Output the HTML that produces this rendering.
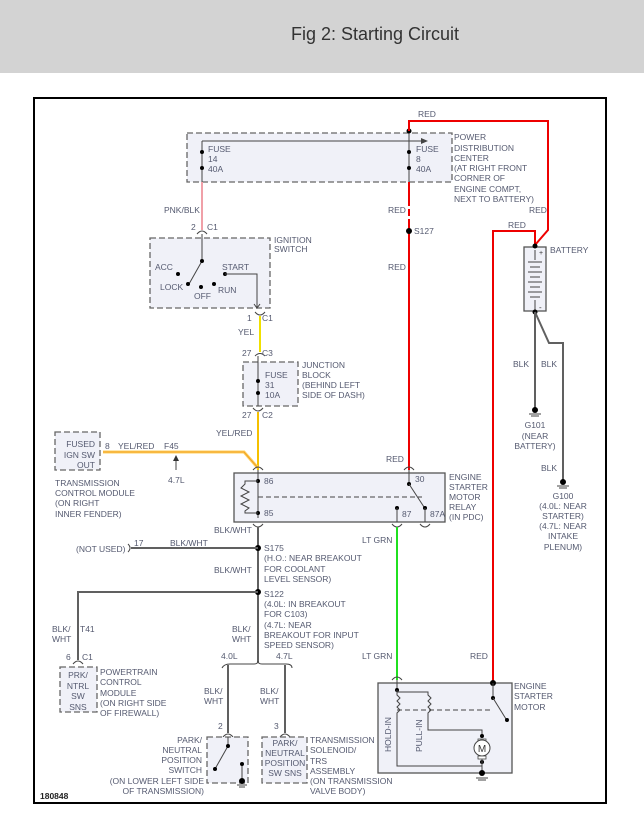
<!DOCTYPE html>
<html><head><meta charset="utf-8"><style>
html,body{margin:0;padding:0;background:#fff;}
svg{display:block;font-family:"Liberation Sans",sans-serif;}
.t{font-size:8.5px;fill:#555a70;}
.w{stroke:#606060;stroke-width:2;fill:none;}
.k{stroke:#444;stroke-width:1;fill:none;}
.bx{fill:#f0f1f8;stroke:#666;stroke-width:1.3;stroke-dasharray:6,3;}
.sb{fill:#f0f1f8;stroke:#555;stroke-width:1.3;}
</style></head><body>
<svg width="644" height="829" viewBox="0 0 644 829">
<rect x="0" y="0" width="644" height="73" fill="#d3d3d3"/>
<text x="375" y="40" font-size="18" fill="#333" text-anchor="middle">Fig 2: Starting Circuit</text>
<rect x="34" y="98" width="572" height="705" fill="#fff" stroke="#000" stroke-width="2"/>

<!-- PDC -->
<rect class="bx" x="187" y="133" width="265" height="49"/>
<line class="k" x1="202" y1="141" x2="425" y2="141"/><polygon points="428,141 421,138 421,144" fill="#444"/>
<line class="k" x1="202" y1="141" x2="202" y2="182"/><line class="k" x1="409" y1="121" x2="409" y2="182"/>
<circle cx="202" cy="152" r="2" fill="#000"/><circle cx="202" cy="168" r="2" fill="#000"/>
<circle cx="409" cy="152" r="2" fill="#000"/><circle cx="409" cy="168" r="2" fill="#000"/>
<circle cx="409" cy="131" r="2.5" fill="#000"/>
<text class="t" x="208" y="152">FUSE</text><text class="t" x="208" y="162">14</text><text class="t" x="208" y="172">40A</text>
<text class="t" x="416" y="152">FUSE</text><text class="t" x="416" y="162">8</text><text class="t" x="416" y="172">40A</text>
<text class="t" x="454" y="140">POWER</text><text class="t" x="454" y="151">DISTRIBUTION</text><text class="t" x="454" y="161">CENTER</text><text class="t" x="454" y="171">(AT RIGHT FRONT</text><text class="t" x="454" y="181">CORNER OF</text><text class="t" x="454" y="192">ENGINE COMPT,</text><text class="t" x="454" y="202">NEXT TO BATTERY)</text>

<!-- red wires -->
<polyline points="409,131 409,121 548,121 548,230 535,245" stroke="#e00" stroke-width="2" fill="none"/>
<line x1="409" y1="182" x2="409" y2="470" stroke="#e00" stroke-width="2" stroke-dasharray="none"/>
<rect x="405" y="206" width="8" height="3" fill="#fff"/><rect x="405" y="216" width="8" height="3" fill="#fff"/>
<circle cx="409" cy="231" r="3" fill="#000"/><text class="t" x="414" y="234">S127</text>
<text class="t" x="418" y="117">RED</text><text class="t" x="388" y="213">RED</text><text class="t" x="529" y="213">RED</text><text class="t" x="388" y="270">RED</text><text class="t" x="508" y="228">RED</text><text class="t" x="386" y="462">RED</text>
<polyline points="535,245 535,231 493,231 493,700" stroke="#e00" stroke-width="2" fill="none"/>
<text class="t" x="470" y="659">RED</text>

<!-- battery -->
<rect class="sb" x="524" y="247" width="22" height="64"/>
<line class="k" x1="535" y1="250" x2="535" y2="260"/><line class="k" x1="535" y1="300" x2="535" y2="311"/>
<g stroke="#444" stroke-width="1"><line x1="528" y1="262" x2="542" y2="262"/><line x1="530" y1="267" x2="540" y2="267"/><line x1="528" y1="272" x2="542" y2="272"/><line x1="530" y1="277" x2="540" y2="277"/><line x1="528" y1="282" x2="542" y2="282"/><line x1="530" y1="287" x2="540" y2="287"/><line x1="528" y1="292" x2="542" y2="292"/><line x1="530" y1="297" x2="540" y2="297"/></g>
<text x="539" y="255" font-size="7" fill="#333">+</text><text x="539" y="310" font-size="8" fill="#333">-</text>
<circle cx="535" cy="246" r="2.5" fill="#000"/><circle cx="535" cy="312" r="2.5" fill="#000"/>
<text class="t" x="550" y="253">BATTERY</text>
<line class="w" x1="535" y1="312" x2="535" y2="408"/>
<polyline class="w" points="535,312 549,343 563,343 563,480"/>
<text class="t" x="513" y="367">BLK</text><text class="t" x="541" y="367">BLK</text><text class="t" x="541" y="471">BLK</text>
<circle cx="535" cy="410" r="3" fill="#000"/><line class="k" x1="529" y1="414" x2="541" y2="414"/><line class="k" x1="531" y1="416" x2="539" y2="416"/>
<circle cx="563" cy="482" r="3" fill="#000"/><line class="k" x1="557" y1="486" x2="569" y2="486"/><line class="k" x1="559" y1="488" x2="567" y2="488"/>
<text class="t" x="535" y="428" text-anchor="middle">G101</text><text class="t" x="535" y="439" text-anchor="middle">(NEAR</text><text class="t" x="535" y="449" text-anchor="middle">BATTERY)</text>
<text class="t" x="563" y="499" text-anchor="middle">G100</text><text class="t" x="563" y="509" text-anchor="middle">(4.0L: NEAR</text><text class="t" x="563" y="519" text-anchor="middle">STARTER)</text><text class="t" x="563" y="529" text-anchor="middle">(4.7L: NEAR</text><text class="t" x="563" y="539" text-anchor="middle">INTAKE</text><text class="t" x="563" y="550" text-anchor="middle">PLENUM)</text>

<!-- ignition -->
<line x1="202" y1="182" x2="202" y2="230" stroke="#f0a0a8" stroke-width="2"/>
<text class="t" x="164" y="213">PNK/BLK</text>
<path class="k" d="M197,234 Q202,228 207,234"/><text class="t" x="191" y="230">2</text><text class="t" x="207" y="230">C1</text>
<rect class="bx" x="150" y="238" width="120" height="70"/>
<text class="t" x="274" y="243">IGNITION</text><text class="t" x="274" y="252">SWITCH</text>
<polyline class="k" points="202,234 202,261 189,284"/><circle cx="202" cy="261" r="2" fill="#000"/>
<circle cx="178" cy="274" r="2" fill="#000"/><circle cx="188" cy="284" r="2" fill="#000"/><circle cx="201" cy="287" r="2" fill="#000"/><circle cx="214" cy="284" r="2" fill="#000"/><circle cx="225" cy="274" r="2" fill="#000"/>
<polyline class="k" points="225,274 257,274 257,307"/><polyline class="k" points="254,304 257,308 260,304"/>
<text class="t" x="155" y="270">ACC</text><text class="t" x="160" y="290">LOCK</text><text class="t" x="194" y="299">OFF</text><text class="t" x="218" y="293">RUN</text><text class="t" x="222" y="270">START</text>
<path class="k" d="M255,312 Q260,318 265,312"/><text class="t" x="247" y="321">1</text><text class="t" x="262" y="321">C1</text>
<line x1="260" y1="316" x2="260" y2="352" stroke="#f0e000" stroke-width="2"/>
<text class="t" x="238" y="335">YEL</text>
<path class="k" d="M255,356 Q260,351 265,356"/><text class="t" x="242" y="356">27</text><text class="t" x="262" y="356">C3</text>
<rect class="bx" x="243" y="362" width="55" height="44"/>
<line class="k" x1="258" y1="356" x2="258" y2="406"/>
<circle cx="258" cy="381" r="2" fill="#000"/><circle cx="258" cy="393" r="2" fill="#000"/>
<text class="t" x="265" y="378">FUSE</text><text class="t" x="265" y="388">31</text><text class="t" x="265" y="398">10A</text>
<text class="t" x="302" y="368">JUNCTION</text><text class="t" x="302" y="378">BLOCK</text><text class="t" x="302" y="388">(BEHIND LEFT</text><text class="t" x="302" y="398">SIDE OF DASH)</text>
<path class="k" d="M253,408 Q258,414 263,408"/><text class="t" x="242" y="418">27</text><text class="t" x="262" y="418">C2</text>
<line x1="258" y1="412" x2="258" y2="470" stroke="#f5c000" stroke-width="2"/>
<text class="t" x="216" y="436">YEL/RED</text>

<!-- TCM -->
<rect class="bx" x="55" y="432" width="45" height="38"/>
<text class="t" x="95" y="447" text-anchor="end">FUSED</text><text class="t" x="95" y="458" text-anchor="end">IGN SW</text><text class="t" x="95" y="468" text-anchor="end">OUT</text>
<polyline points="103,452 244,452 258,468" stroke="#ffd060" stroke-width="3" fill="none"/>
<polyline points="103,452 244,452 258,468" stroke="#f0a020" stroke-width="1" fill="none"/>
<text class="t" x="105" y="449">8</text><text class="t" x="118" y="449">YEL/RED</text><text class="t" x="164" y="449">F45</text>
<line class="k" x1="176" y1="456" x2="176" y2="470"/><polygon points="176,455 173,461 179,461" fill="#333"/>
<text class="t" x="168" y="483">4.7L</text>
<text class="t" x="55" y="486">TRANSMISSION</text><text class="t" x="55" y="496">CONTROL MODULE</text><text class="t" x="55" y="506">(ON RIGHT</text><text class="t" x="55" y="517">INNER FENDER)</text>

<!-- relay -->
<rect class="sb" x="234" y="473" width="211" height="49"/>
<path class="k" d="M253,470 Q258,464 263,470"/><path class="k" d="M404,470 Q409,464 414,470"/>
<line class="k" x1="258" y1="470" x2="258" y2="518"/><line class="k" x1="409" y1="470" x2="409" y2="484"/>
<circle cx="258" cy="481" r="2" fill="#000"/><circle cx="258" cy="513" r="2" fill="#000"/>
<polyline class="k" points="258,481 245,481 245,484 241,488 249,492 241,496 249,500 241,504 249,508 245,511 245,513 258,513"/>
<line class="k" x1="258" y1="497" x2="422" y2="497" stroke-dasharray="5,3"/>
<circle cx="409" cy="484" r="2" fill="#000"/><line class="k" x1="409" y1="484" x2="424" y2="507"/><circle cx="425" cy="508" r="2" fill="#000"/>
<line class="k" x1="425" y1="508" x2="425" y2="522"/><circle cx="397" cy="508" r="2" fill="#000"/><line class="k" x1="397" y1="508" x2="397" y2="522"/>
<text class="t" x="264" y="484">86</text><text class="t" x="264" y="516">85</text><text class="t" x="415" y="482">30</text><text class="t" x="402" y="517">87</text><text class="t" x="430" y="517">87A</text>
<text class="t" x="449" y="480">ENGINE</text><text class="t" x="449" y="490">STARTER</text><text class="t" x="449" y="500">MOTOR</text><text class="t" x="449" y="510">RELAY</text><text class="t" x="449" y="520">(IN PDC)</text>
<path class="k" d="M392,524 Q397,530 402,524"/><path class="k" d="M420,524 Q425,530 430,524"/><path class="k" d="M253,524 Q258,530 263,524"/>
<line x1="397" y1="527" x2="397" y2="680" stroke="#20e020" stroke-width="2"/>
<text class="t" x="362" y="543">LT GRN</text><text class="t" x="362" y="659">LT GRN</text>

<!-- blk/wht trunk -->
<line class="w" x1="258" y1="527" x2="258" y2="662"/>
<text class="t" x="214" y="533">BLK/WHT</text>
<circle cx="258" cy="548" r="3" fill="#000"/>
<line class="w" x1="131" y1="548" x2="258" y2="548"/>
<path class="k" d="M128,544 Q132,548 128,552"/>
<text class="t" x="76" y="552">(NOT USED)</text><text class="t" x="134" y="546">17</text><text class="t" x="170" y="546">BLK/WHT</text>
<text class="t" x="264" y="551">S175</text><text class="t" x="264" y="561">(H.O.: NEAR BREAKOUT</text><text class="t" x="264" y="572">FOR COOLANT</text><text class="t" x="264" y="582">LEVEL SENSOR)</text>
<text class="t" x="214" y="573">BLK/WHT</text>
<circle cx="258" cy="592" r="3" fill="#000"/>
<polyline class="w" points="258,592 78,592 78,660"/>
<text class="t" x="264" y="597">S122</text><text class="t" x="264" y="607">(4.0L: IN BREAKOUT</text><text class="t" x="264" y="617">FOR C103)</text><text class="t" x="264" y="628">(4.7L: NEAR</text><text class="t" x="264" y="638">BREAKOUT FOR INPUT</text><text class="t" x="264" y="648">SPEED SENSOR)</text>
<text class="t" x="52" y="632">BLK/</text><text class="t" x="52" y="642">WHT</text><text class="t" x="80" y="632">T41</text>
<text class="t" x="232" y="632">BLK/</text><text class="t" x="232" y="642">WHT</text>
<path class="k" d="M73,664 Q78,658 83,664"/><text class="t" x="66" y="660">6</text><text class="t" x="82" y="660">C1</text>
<rect class="bx" x="60" y="667" width="37" height="45"/>
<text class="t" x="78" y="678" text-anchor="middle">PRK/</text><text class="t" x="78" y="689" text-anchor="middle">NTRL</text><text class="t" x="78" y="699" text-anchor="middle">SW</text><text class="t" x="78" y="710" text-anchor="middle">SNS</text>
<text class="t" x="100" y="675">POWERTRAIN</text><text class="t" x="100" y="685">CONTROL</text><text class="t" x="100" y="696">MODULE</text><text class="t" x="100" y="706">(ON RIGHT SIDE</text><text class="t" x="100" y="716">OF FIREWALL)</text>
<!-- split -->
<path class="k" d="M222,668 Q224,664 230,664 L254,664 Q258,664 258,661 Q258,664 262,664 L286,664 Q292,664 292,668"/>
<text class="t" x="221" y="659">4.0L</text><text class="t" x="276" y="659">4.7L</text>
<line class="w" x1="228" y1="665" x2="228" y2="733"/><line class="w" x1="285" y1="665" x2="285" y2="733"/>
<text class="t" x="204" y="694">BLK/</text><text class="t" x="204" y="704">WHT</text><text class="t" x="260" y="694">BLK/</text><text class="t" x="260" y="704">WHT</text>
<path class="k" d="M223,737 Q228,731 233,737"/><path class="k" d="M280,737 Q285,731 290,737"/>
<text class="t" x="218" y="729">2</text><text class="t" x="274" y="729">3</text>
<rect class="bx" x="207" y="737" width="41" height="46"/>
<polyline class="k" points="228,737 228,746 215,769"/><circle cx="228" cy="746" r="2" fill="#000"/><circle cx="215" cy="769" r="2" fill="#000"/>
<line class="k" x1="242" y1="764" x2="242" y2="781"/><circle cx="242" cy="764" r="2" fill="#000"/><circle cx="242" cy="781" r="3" fill="#000"/>
<line class="k" x1="237" y1="785" x2="247" y2="785"/><line class="k" x1="239" y1="787" x2="245" y2="787"/>
<text class="t" x="202" y="743" text-anchor="end">PARK/</text><text class="t" x="202" y="753" text-anchor="end">NEUTRAL</text><text class="t" x="202" y="763" text-anchor="end">POSITION</text><text class="t" x="202" y="773" text-anchor="end">SWITCH</text><text class="t" x="204" y="784" text-anchor="end">(ON LOWER LEFT SIDE</text><text class="t" x="204" y="794" text-anchor="end">OF TRANSMISSION)</text>
<rect class="bx" x="262" y="737" width="45" height="46"/>
<text class="t" x="285" y="746" text-anchor="middle">PARK/</text><text class="t" x="285" y="756" text-anchor="middle">NEUTRAL</text><text class="t" x="285" y="766" text-anchor="middle">POSITION</text><text class="t" x="285" y="776" text-anchor="middle">SW SNS</text>
<text class="t" x="310" y="743">TRANSMISSION</text><text class="t" x="310" y="753">SOLENOID/</text><text class="t" x="310" y="764">TRS</text><text class="t" x="310" y="774">ASSEMBLY</text><text class="t" x="310" y="784">(ON TRANSMISSION</text><text class="t" x="310" y="794">VALVE BODY)</text>

<!-- starter -->
<rect class="sb" x="378" y="683" width="134" height="90"/>
<path class="k" d="M392,680 Q397,674 402,680"/>
<circle cx="493" cy="683" r="3" fill="#000"/>
<text class="t" x="514" y="689">ENGINE</text><text class="t" x="514" y="699">STARTER</text><text class="t" x="514" y="710">MOTOR</text>
<polyline class="k" points="397,680 397,690"/><circle cx="397" cy="690" r="2" fill="#000"/>
<polyline class="k" points="397,690 397,695 400,698 397,701 400,704 397,707 400,710 397,713 397,766 482,766"/>
<polyline class="k" points="397,692 428,692 428,695 431,698 428,701 431,704 428,707 431,710 428,713 428,730 482,730 482,736"/>
<line class="k" x1="397" y1="710" x2="490" y2="710" stroke-dasharray="5,3"/>
<polyline class="k" points="493,683 493,697"/><circle cx="493" cy="698" r="2" fill="#000"/><line class="k" x1="493" y1="698" x2="506" y2="719"/><circle cx="507" cy="720" r="2" fill="#000"/>
<circle cx="482" cy="736" r="2" fill="#000"/><rect x="478" y="739" width="8" height="3" fill="#fff" stroke="#444" stroke-width="0.8"/>
<circle cx="482" cy="748" r="8" fill="#fff" stroke="#444"/><text x="482" y="752" font-size="10" fill="#333" text-anchor="middle">M</text>
<rect x="478" y="756" width="8" height="3" fill="#fff" stroke="#444" stroke-width="0.8"/><circle cx="482" cy="762" r="2" fill="#000"/>
<line class="k" x1="482" y1="759" x2="482" y2="773"/><circle cx="482" cy="773" r="3" fill="#000"/>
<line class="k" x1="476" y1="778" x2="488" y2="778"/><line class="k" x1="478" y1="780" x2="486" y2="780"/>
<text class="t" transform="translate(391,752) rotate(-90)">HOLD-IN</text>
<text class="t" transform="translate(422,752) rotate(-90)">PULL-IN</text>

<text x="40" y="799" font-size="8.5" fill="#222" font-weight="bold">180848</text>
</svg>
</body></html>
